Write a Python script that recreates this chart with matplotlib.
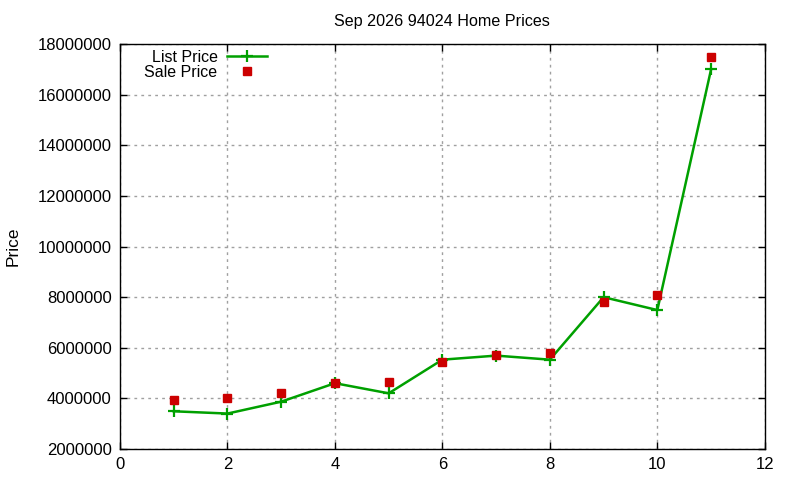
import matplotlib
matplotlib.use("Agg")
import matplotlib.pyplot as plt
from matplotlib.ticker import FuncFormatter

months = [1, 2, 3, 4, 5, 6, 7, 8, 9, 10, 11]
list_price = [3490000, 3400000, 3870000, 4600000, 4200000, 5530000, 5690000, 5530000, 8000000, 7490000, 17000000]
sale_price = [3930000, 4020000, 4220000, 4620000, 4660000, 5430000, 5700000, 5810000, 7790000, 8100000, 17490000]
x_ticks = [0, 2, 4, 6, 8, 10, 12]
y_ticks = [2000000, 4000000, 6000000, 8000000, 10000000, 12000000, 14000000, 16000000, 18000000]

plt.rcParams['font.family'] = ['Liberation Sans', 'DejaVu Sans']
fig = plt.figure(figsize=(8, 4.8), dpi=100)
ax = fig.add_axes([0.15, 0.0646, 0.806, 0.8435])

ax.plot(months, list_price, color='#00a000', lw=1.8, marker='+', ms=9, mew=1.6, label='List Price')
ax.plot(months, sale_price, ls='none', color='#cc0000', marker='s', ms=6.3, label='Sale Price')

ax.set_xlim(0, 12)
ax.set_ylim(2000000, 18000000)
ax.set_xticks(x_ticks)
ax.set_yticks(y_ticks)
ax.yaxis.set_major_formatter(FuncFormatter(lambda v, p: f"{int(v)}"))
ax.tick_params(direction='in', top=True, right=True, labelsize=12, length=5, width=1, pad=6)
ax.grid(True, color='#a0a0a0', ls=(0, (2, 3)), lw=1)
for s in ax.spines.values():
    s.set_linewidth(1)
ax.set_title('Sep 2026 94024 Home Prices', fontsize=11.6, pad=13)
ax.set_ylabel('Price', fontsize=12.5, labelpad=12)

leg = ax.legend(loc='upper left', bbox_to_anchor=(0.023, 1.01), frameon=False, markerfirst=False,
                fontsize=11.5, handlelength=2.5, handletextpad=0.6, labelspacing=0.0, borderaxespad=0.2)
for t in leg.get_texts():
    t.set_ha('right')
leg._legend_box.align = 'right'

fig.savefig('out.png', dpi=100)
